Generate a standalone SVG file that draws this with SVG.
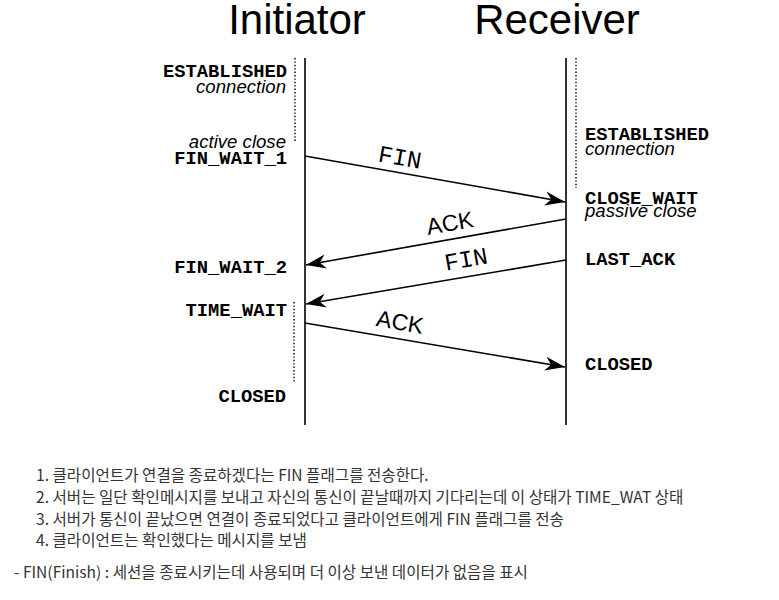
<svg xmlns="http://www.w3.org/2000/svg" width="779" height="600" viewBox="0 0 779 600">
<style>
.title{font-family:"Liberation Sans",Arial,sans-serif;font-size:42px;fill:#000}
.st{font-family:"Liberation Mono","Courier New",monospace;font-weight:bold;font-size:18.8px;fill:#000}
.it{font-family:"Liberation Sans",Arial,sans-serif;font-style:italic;font-size:18.6px;fill:#000}
.lblm{font-family:"Liberation Mono","Courier New",monospace;font-size:24px;fill:#000}
.lbls{font-family:"Liberation Sans",Arial,sans-serif;font-size:23px;fill:#000}
.tl{stroke:#000;stroke-width:1.6;fill:none}
.dot{stroke:#000;stroke-width:1.4;stroke-dasharray:1.4 2;fill:none}
.msg{stroke:#000;stroke-width:1.6;fill:none;marker-end:url(#ah)}
.kr{font-family:"Noto Sans CJK KR","Noto Sans",sans-serif;font-size:15.6px;fill:#333}
</style>
<defs>
<marker id="ah" markerUnits="userSpaceOnUse" markerWidth="24" markerHeight="16" viewBox="-22 -8 24 16" refX="0" refY="0" orient="auto">
<path d="M0,0 L-20,-7 L-14,0 L-20,7 z" fill="#000"/>
</marker>
</defs>
<rect width="779" height="600" fill="#fff"/>
<g id="initiator">
<text class="title" x="297" y="34" text-anchor="middle">Initiator</text>
<line class="tl" x1="305" y1="58" x2="305" y2="425"/>
<line class="dot" x1="295" y1="58" x2="295" y2="142"/>
<line class="dot" x1="294" y1="302" x2="294" y2="383"/>
</g>
<g id="receiver">
<text class="title" x="557" y="34" text-anchor="middle">Receiver</text>
<line class="tl" x1="566" y1="58" x2="566" y2="425"/>
<line class="dot" x1="576" y1="58" x2="576" y2="188"/>
</g>
<g id="initiator-states">
<text class="st" x="287" y="77" text-anchor="end">ESTABLISHED</text>
<text class="it" x="286" y="93" text-anchor="end">connection</text>
<text class="it" x="286" y="148" text-anchor="end">active close</text>
<text class="st" x="287" y="164" text-anchor="end">FIN_WAIT_1</text>
<text class="st" x="287" y="273" text-anchor="end">FIN_WAIT_2</text>
<text class="st" x="287" y="316" text-anchor="end">TIME_WAIT</text>
<text class="st" x="286" y="402" text-anchor="end">CLOSED</text>
</g>
<g id="receiver-states">
<text class="st" x="585" y="140">ESTABLISHED</text>
<text class="it" x="585" y="155">connection</text>
<text class="st" x="585" y="204">CLOSE_WAIT</text>
<text class="it" x="585" y="217">passive close</text>
<text class="st" x="585" y="265">LAST_ACK</text>
<text class="st" x="585" y="370">CLOSED</text>
</g>
<g id="connectors">
<line class="msg" x1="305" y1="156" x2="565" y2="202"/>
<line class="msg" x1="566" y1="219" x2="306" y2="265"/>
<line class="msg" x1="566" y1="260" x2="306" y2="304"/>
<line class="msg" x1="305" y1="323" x2="565" y2="367"/>
<text class="lblm" x="400" y="165" text-anchor="middle" transform="rotate(10 400 157)">FIN</text>
<text class="lbls" x="450" y="231" text-anchor="middle" transform="rotate(-10 450 223)">ACK</text>
<text class="lblm" x="466" y="267" text-anchor="middle" transform="rotate(-10 466 259)">FIN</text>
<text class="lbls" x="400" y="330" text-anchor="middle" transform="rotate(10 400 322)">ACK</text>
</g>
<g id="notes">
<text class="kr" x="36" y="481">1. 클라이언트가 연결을 종료하겠다는 FIN 플래그를 전송한다.</text>
<text class="kr" x="36" y="503">2. 서버는 일단 확인메시지를 보내고 자신의 통신이 끝날때까지 기다리는데 이 상태가 TIME_WAT 상태</text>
<text class="kr" x="36" y="525">3. 서버가 통신이 끝났으면 연결이 종료되었다고 클라이언트에게 FIN 플래그를 전송</text>
<text class="kr" x="36" y="546">4. 클라이언트는 확인했다는 메시지를 보냄</text>
<text class="kr" x="14" y="578">- FIN(Finish) : 세션을 종료시키는데 사용되며 더 이상 보낸 데이터가 없음을 표시</text>
</g>
</svg>
